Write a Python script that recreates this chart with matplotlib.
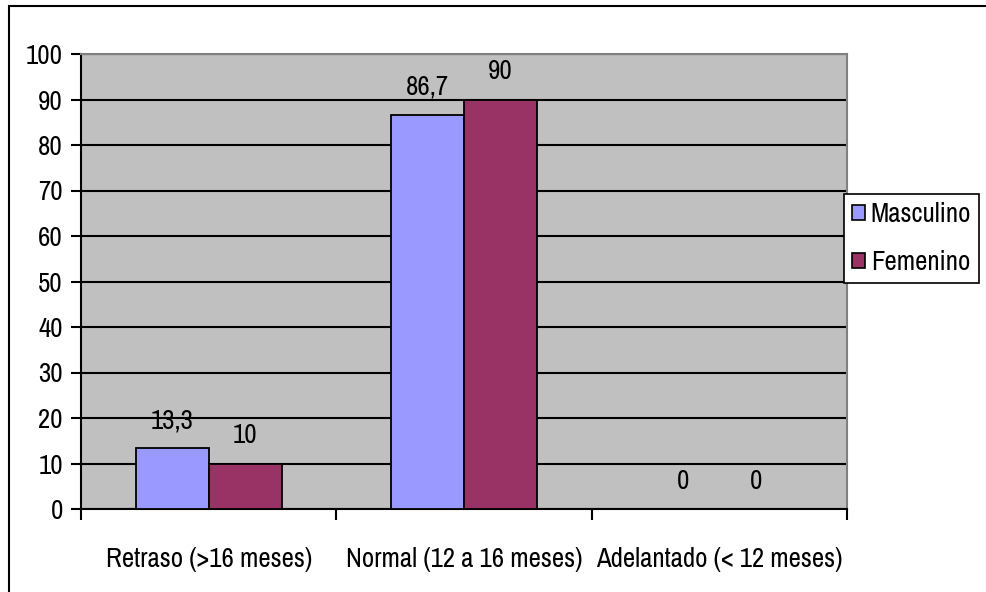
import matplotlib
matplotlib.use("Agg")
import matplotlib.pyplot as plt
from matplotlib.patches import Rectangle, Patch
import numpy as np

categories = ["Retraso (>16 meses)", "Normal (12 a 16 meses)", "Adelantado (< 12 meses)"]
masculino = [13.3, 86.7, 0]
femenino = [10, 90, 0]
series_names = ["Masculino", "Femenino"]
y_ticks = [0, 10, 20, 30, 40, 50, 60, 70, 80, 90, 100]

plt.rcParams["font.family"] = ["Liberation Sans Narrow", "Archivo Narrow", "Liberation Sans", "DejaVu Sans"]
FS = 19.3

W, H = 987, 592
fig = plt.figure(figsize=(W / 100, H / 100), dpi=100)
fig.patch.set_facecolor("white")

# outer chart frame (left and top edges visible)
fig.add_artist(Rectangle((9 / W, -0.1), 1.2, (H - 6) / H + 0.1, transform=fig.transFigure,
                         fill=False, edgecolor="black", linewidth=1.5))

left, right, top, bottom = 81, 847, 54, 509
ax = fig.add_axes([left / W, (H - bottom) / H, (right - left) / W, (bottom - top) / H])
ax.set_facecolor("#C0C0C0")

x = np.arange(len(categories))
bw = 0.286
b1 = ax.bar(x - bw / 2, masculino, bw, color="#9999FF", edgecolor="black", linewidth=1.3, zorder=3)
b2 = ax.bar(x + bw / 2, femenino, bw, color="#993366", edgecolor="black", linewidth=1.3, zorder=3)

def fmt(v):
    s = f"{v:g}"
    return s.replace(".", ",")

for bars, vals in ((b1, masculino), (b2, femenino)):
    for rect, v in zip(bars, vals):
        ax.annotate(fmt(v), (rect.get_x() + rect.get_width() / 2, v),
                    xytext=(0, 14.5), textcoords="offset points",
                    ha="center", va="baseline", fontsize=FS, zorder=4)

ax.set_xlim(-0.5, len(categories) - 0.5)
ax.set_ylim(0, 100)
ax.set_yticks(y_ticks)
ax.set_yticklabels([str(t) for t in y_ticks], fontsize=FS)
ax.yaxis.grid(True, color="black", linewidth=1.5, zorder=1)
ax.set_axisbelow(True)

# category ticks at group boundaries, labels centered under each group
ax.set_xticks(np.arange(len(categories) + 1) - 0.5)
ax.set_xticklabels([])
ax.set_xticks(x, minor=True)
ax.set_xticklabels(categories, minor=True, fontsize=FS)
ax.tick_params(axis="x", which="major", length=8, width=1.5, direction="out", color="black")
ax.tick_params(axis="x", which="minor", length=0, pad=27)
ax.tick_params(axis="y", length=7, width=1.5, direction="out", pad=6)

for side in ("left", "bottom"):
    ax.spines[side].set_color("black")
    ax.spines[side].set_linewidth(1.5)
for side in ("top", "right"):
    ax.spines[side].set_color("#808080")
    ax.spines[side].set_linewidth(1.5)

handles = [Patch(facecolor="#9999FF", edgecolor="black", linewidth=1.2),
           Patch(facecolor="#993366", edgecolor="black", linewidth=1.2)]
leg = fig.legend(handles, series_names, loc="upper left",
                 bbox_to_anchor=(844 / W, (H - 194) / H), fontsize=FS,
                 frameon=True, fancybox=False, edgecolor="black", framealpha=1,
                 handlelength=0.5, handleheight=0.5, handletextpad=0.2,
                 borderpad=0.3, labelspacing=0.85, borderaxespad=0)
leg.get_frame().set_linewidth(1.2)

fig.savefig("out.png", dpi=100)
